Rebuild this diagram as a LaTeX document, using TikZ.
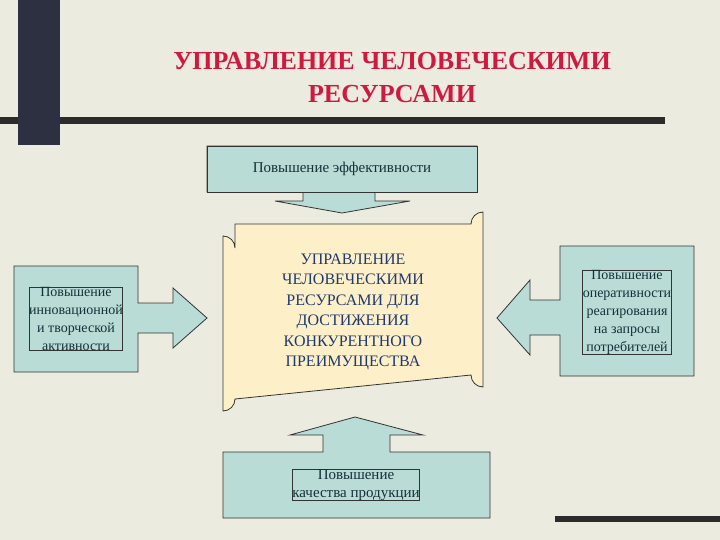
\documentclass[tikz,border=0pt]{standalone}
\usepackage{fontspec}
\setmainfont{Liberation Serif}
\definecolor{bg}{HTML}{ECEBDF}
\definecolor{pillar}{HTML}{2C3040}
\definecolor{bar}{HTML}{2B2B2B}
\definecolor{ttl}{HTML}{D0193F}
\definecolor{teal}{HTML}{B9DCD6}
\definecolor{cream}{HTML}{FDF0C9}
\definecolor{txt}{HTML}{14303A}
\definecolor{ctxt}{HTML}{1F3A6E}
\begin{document}
\begin{tikzpicture}[x=1pt,y=-1pt,
  box/.style={draw=black!80,fill=teal,line width=0.8pt,text=txt,font=\fontsize{15}{18}\selectfont,align=center,inner sep=0pt},
  arr/.style={draw=black!80,fill=teal,line width=0.8pt,line join=miter}]
\fill[bg] (0,0) rectangle (720,540);
\useasboundingbox (0,0) rectangle (720,540);
\fill[bar] (0,117) rectangle (665,124);
\fill[pillar] (18,0) rectangle (60,145);
\fill[bar] (555,516) rectangle (720,522);
\node[text=ttl,font=\fontsize{26}{33}\selectfont\bfseries,align=center] (title) at (392,78) {УПРАВЛЕНИЕ ЧЕЛОВЕЧЕСКИМИ\\РЕСУРСАМИ};
% center
\draw[draw=black!80,fill=cream,line width=0.8pt] (235,224) -- (471,224) arc[start angle=180,end angle=270,radius=12] -- (483,387) arc[start angle=90,end angle=180,radius=12] -- (235,399) arc[start angle=0,end angle=90,radius=12] -- (223,236) arc[start angle=270,end angle=360,radius=12] -- cycle;
\node[text=ctxt,font=\fontsize{16}{20.5}\selectfont,align=center] (c) at (353,312) {УПРАВЛЕНИЕ\\ЧЕЛОВЕЧЕСКИМИ\\РЕСУРСАМИ ДЛЯ\\ДОСТИЖЕНИЯ\\КОНКУРЕНТНОГО\\ПРЕИМУЩЕСТВА};
% top
\draw[arr] (207,146) -- (477,146) -- (477,192) -- (375,192) -- (375,201) -- (410,201) -- (342,213) -- (275,201) -- (303,201) -- (303,192) -- (207,192) -- cycle;
\node[box,minimum width=270pt,minimum height=46pt] (t) at (342,169) {Повышение эффективности};
% bottom
\draw[arr] (223,452) -- (323,452) -- (323,435) -- (290,435) -- (355,417) -- (423,435) -- (390,435) -- (390,452) -- (490,452) -- (490,518) -- (223,518) -- cycle;
\node[box] (b) at (356,485) {Повышение\\качества продукции};
% left
\draw[arr] (14,266) -- (138,266) -- (138,303) -- (173,303) -- (173,288) -- (207,318) -- (173,348) -- (173,333) -- (138,333) -- (138,372) -- (14,372) -- cycle;
\node[box,font=\fontsize{14}{18}\selectfont] (l) at (76,319) {Повышение\\инновационной\\и творческой\\активности};
% right
\draw[arr] (560,246) -- (694,246) -- (694,376) -- (560,376) -- (560,335) -- (530,335) -- (530,355) -- (497,318) -- (530,280) -- (530,300) -- (560,300) -- cycle;
\node[box,font=\fontsize{14}{18}\selectfont] (r) at (627,312) {Повышение\\оперативности\\реагирования\\на запросы\\потребителей};
\end{tikzpicture}
\end{document}
